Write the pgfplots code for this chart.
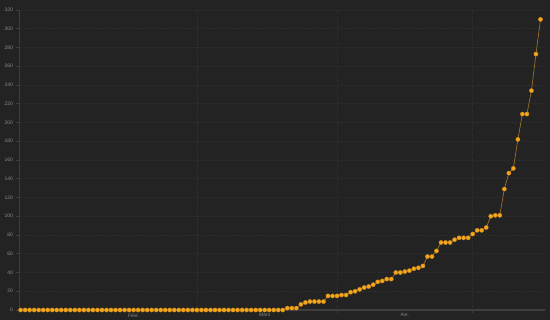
\documentclass[border=0pt]{standalone}
\usepackage{pgfplots}
\pgfplotsset{compat=1.18}
\usepackage{fontspec}
\setmainfont{Liberation Sans}
\definecolor{bg}{HTML}{232323}
\definecolor{gridc}{HTML}{323232}
\definecolor{axisc}{HTML}{3E3E3E}
\definecolor{tickc}{HTML}{8A8A8A}
\definecolor{dotc}{HTML}{F5A81C}
\definecolor{dotedge}{HTML}{C9861A}
\definecolor{linec}{HTML}{A8782C}
\pgfplotstableread{
x y
0 0
1 0
2 0
3 0
4 0
5 0
6 0
7 0
8 0
9 0
10 0
11 0
12 0
13 0
14 0
15 0
16 0
17 0
18 0
19 0
20 0
21 0
22 0
23 0
24 0
25 0
26 0
27 0
28 0
29 0
30 0
31 0
32 0
33 0
34 0
35 0
36 0
37 0
38 0
39 0
40 0
41 0
42 0
43 0
44 0
45 0
46 0
47 0
48 0
49 0
50 0
51 0
52 0
53 0
54 0
55 0
56 0
57 0
58 0
59 2
60 2
61 2
62 6
63 8
64 9
65 9
66 9
67 9
68 15
69 15
70 15
71 16
72 16
73 19
74 20
75 22
76 24
77 25
78 27
79 30
80 31
81 33
82 33
83 40
84 40
85 41
86 42
87 44
88 45
89 47
90 57
91 57
92 63
93 72
94 72
95 72
96 75
97 77
98 77
99 77
100 81
101 85
102 85
103 88
104 100
105 101
106 101
107 129
108 146
109 151
110 182
111 209
112 209
113 234
114 273
115 310
}\cases
\begin{document}
\begin{tikzpicture}
\fill[bg] (0,0) rectangle (550bp,320bp);
\useasboundingbox (0,0) rectangle (550bp,320bp);
\begin{axis}[
  at={(19bp,10bp)}, anchor=south west,
  scale only axis, width=526bp, height=300bp,
  xmin=-0.35, xmax=116, ymin=0, ymax=320,
  axis x line=bottom, axis y line=left,
  x axis line style={-, draw=axisc, line width=1.6bp},
  y axis line style={-, draw=axisc, line width=0.6bp},
  ytick={0,20,...,320},
  xtick={39,70,100}, xticklabels={},
  extra x ticks={25,54,85},
  extra x tick labels={Févr.,Mars,Avr.},
  extra x tick style={grid=none, major tick length=0pt},
  xmajorgrids, ymajorgrids,
  major grid style={dotted, draw=gridc, line width=0.5bp},
  tick align=outside, major tick length=3bp,
  tick style={draw=axisc, line width=0.5bp},
  /pgf/number format/assume math mode=true,
  ticklabel style={font=\fontsize{5}{6}\selectfont, text=tickc},
  yticklabel style={xshift=0.5bp},
  xticklabel style={yshift=0bp},
  clip=false,
]
\addplot[color=linec, line width=0.6bp, mark=*, mark size=2.1bp,
  mark options={fill=dotc, draw=dotedge, line width=0.4bp}] table[x=x,y=y] {\cases};
\end{axis}
\end{tikzpicture}
\end{document}
